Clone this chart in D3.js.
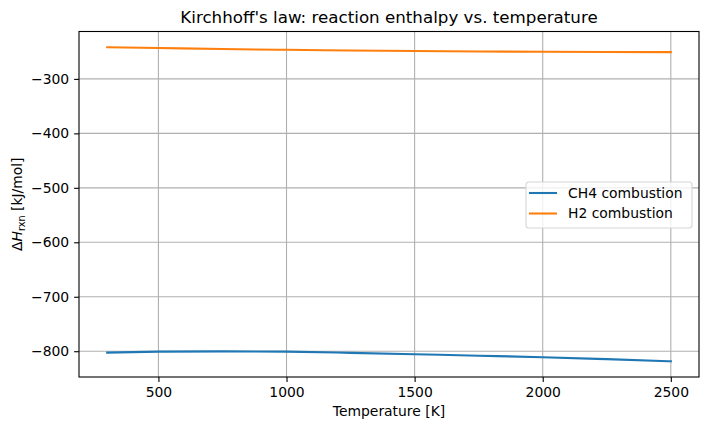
<!DOCTYPE html>
<html>
<head>
<meta charset="utf-8">
<script src="https://cdn.jsdelivr.net/npm/d3@7"></script>
<style>
  body { margin: 0; background: #fff; }
  text { font-family: "DejaVu Sans", sans-serif; fill: #000; }
</style>
</head>
<body>
<div id="container"></div>
<script>
'use strict';

const temps = [300, 500, 750, 1000, 1250, 1500, 1750, 2000, 2250, 2500];
const ch4Values = [-802.5, -800.8, -800.2, -800.8, -803.0, -805.5, -808.2, -811.0, -814.6, -818.5];
const h2Values = [-241.8, -243.3, -245.2, -246.6, -247.8, -248.8, -249.6, -250.2, -250.6, -250.9];
const seriesNames = ['CH4 combustion', 'H2 combustion'];
const seriesColors = ['#1f77b4', '#ff7f0e'];
const xTicks = [500, 1000, 1500, 2000, 2500];
const yTicks = [-300, -400, -500, -600, -700, -800];

const w = 708;
const h = 431;
const margin = {top: 31.5, right: 9, bottom: 54, left: 79};

const svg = d3.select('#container')
                .append('svg')
                .attr('width', w)
                .attr('height', h);

const series = [ch4Values, h2Values].map((vals, i) => ({
    name: seriesNames[i],
    color: seriesColors[i],
    points: temps.map((t, j) => ({t: t, v: vals[j]}))
}));

// matplotlib style 5% margins
const xMin = d3.min(temps), xMax = d3.max(temps);
const xPad = (xMax - xMin) * 0.05;
const allVals = ch4Values.concat(h2Values);
const yMin = d3.min(allVals), yMax = d3.max(allVals);
const yPad = (yMax - yMin) * 0.05;

const xScale = d3.scaleLinear()
                    .domain([xMin - xPad, xMax + xPad])
                    .range([margin.left, w - margin.right]);
const yScale = d3.scaleLinear()
                    .domain([yMin - yPad, yMax + yPad])
                    .range([h - margin.bottom, margin.top]);

// grid
svg.append('g')
    .selectAll('line')
    .data(xTicks)
    .enter()
    .append('line')
    .attr('x1', (d) => xScale(d))
    .attr('x2', (d) => xScale(d))
    .attr('y1', margin.top)
    .attr('y2', h - margin.bottom)
    .attr('stroke', '#b0b0b0')
    .attr('stroke-width', 1.1);
svg.append('g')
    .selectAll('line')
    .data(yTicks)
    .enter()
    .append('line')
    .attr('x1', margin.left)
    .attr('x2', w - margin.right)
    .attr('y1', (d) => yScale(d))
    .attr('y2', (d) => yScale(d))
    .attr('stroke', '#b0b0b0')
    .attr('stroke-width', 1.1);

// lines
const line = d3.line()
                .x((d) => xScale(d.t))
                .y((d) => yScale(d.v))
                .curve(d3.curveMonotoneX);

svg.selectAll('path.series')
    .data(series)
    .enter()
    .append('path')
    .attr('class', 'series')
    .attr('fill', 'none')
    .attr('stroke', (d) => d.color)
    .attr('stroke-width', 2.1)
    .attr('stroke-linecap', 'square')
    .attr('d', (d) => line(d.points));

// axes
const xAxis = d3.axisBottom(xScale)
                .tickValues(xTicks)
                .tickSize(4.9)
                .tickPadding(4.9)
                .tickFormat(d3.format('d'));
const yAxis = d3.axisLeft(yScale)
                .tickValues(yTicks)
                .tickSize(4.9)
                .tickPadding(4.9)
                .tickFormat((d) => '\u2212' + Math.abs(d));

const gx = svg.append('g')
    .attr('transform', 'translate(0, ' + (h - margin.bottom) + ')')
    .call(xAxis);
const gy = svg.append('g')
    .attr('transform', 'translate(' + margin.left + ', 0)')
    .call(yAxis);
[gx, gy].forEach((g) => {
    g.select('.domain').remove();
    g.selectAll('.tick line').attr('stroke', '#000').attr('stroke-width', 1.1);
    g.selectAll('.tick text').style('font-size', '13.9px').attr('fill', '#000');
});

// frame
svg.append('rect')
    .attr('x', margin.left)
    .attr('y', margin.top)
    .attr('width', w - margin.right - margin.left)
    .attr('height', h - margin.bottom - margin.top)
    .attr('fill', 'none')
    .attr('stroke', '#000')
    .attr('stroke-width', 1.1);

// title and labels
svg.append('text')
    .attr('x', (margin.left + w - margin.right) / 2)
    .attr('y', 23)
    .attr('text-anchor', 'middle')
    .style('font-size', '16.7px')
    .text("Kirchhoff's law: reaction enthalpy vs. temperature");

svg.append('text')
    .attr('x', (margin.left + w - margin.right) / 2)
    .attr('y', 416)
    .attr('text-anchor', 'middle')
    .style('font-size', '13.9px')
    .text('Temperature [K]');

const yLabel = svg.append('text')
    .attr('transform', 'translate(22, ' + ((margin.top + h - margin.bottom) / 2) + ') rotate(-90)')
    .attr('text-anchor', 'middle')
    .style('font-size', '13.9px');
yLabel.append('tspan').text('\u0394');
yLabel.append('tspan').style('font-style', 'oblique').text('H');
yLabel.append('tspan').attr('dy', 2.5).style('font-size', '9.7px').text('rxn');
yLabel.append('tspan').attr('dy', -2.5).text(' [kJ/mol]');

// legend
const legend = svg.append('g')
    .attr('transform', 'translate(526, 182)');
legend.append('rect')
    .attr('width', 166)
    .attr('height', 46)
    .attr('rx', 3)
    .attr('fill', '#fff')
    .attr('fill-opacity', 0.8)
    .attr('stroke', '#d6d6d6')
    .attr('stroke-width', 1.1);
const entries = legend.selectAll('g.entry')
    .data(series)
    .enter()
    .append('g')
    .attr('class', 'entry')
    .attr('transform', (d, i) => 'translate(0, ' + (11 + i * 20.5) + ')');
entries.append('line')
    .attr('x1', 3)
    .attr('x2', 31)
    .attr('stroke', (d) => d.color)
    .attr('stroke-width', 2.1);
entries.append('text')
    .attr('x', 42)
    .attr('dy', '0.35em')
    .style('font-size', '13.9px')
    .text((d) => d.name);
</script>
</body>
</html>
